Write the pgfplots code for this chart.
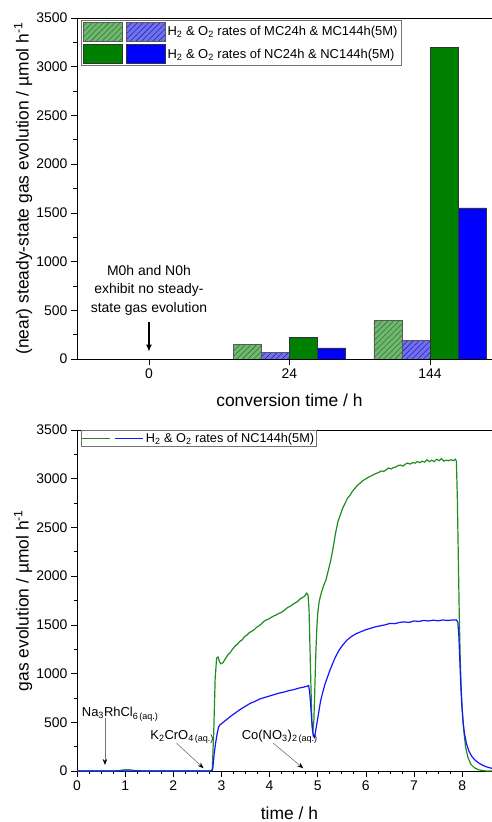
\documentclass[border=0pt]{standalone}
\usepackage{fontspec}
\setmainfont{Liberation Sans}
\usepackage{pgfplots}
\pgfplotsset{compat=1.18}
\usetikzlibrary{patterns.meta,arrows.meta}

\definecolor{barGreen}{RGB}{0,128,0}
\definecolor{barBlue}{RGB}{0,0,255}
\definecolor{hatchGreenFill}{RGB}{112,184,112}
\definecolor{hatchGreenLine}{RGB}{45,115,45}
\definecolor{hatchBlueFill}{RGB}{112,112,240}
\definecolor{hatchBlueLine}{RGB}{35,35,170}
\definecolor{lineGreen}{RGB}{30,140,30}
\definecolor{lineBlue}{RGB}{20,20,255}

\pgfplotsset{
  panel/.style={
    scale only axis, width=415bp, height=341bp,
    axis x line*=box, axis y line*=left,
    xtick pos=lower, ytick pos=left,
    tick align=outside,
    major tick length=6bp, minor tick length=3.5bp,
    ymin=0, ymax=3500, ytick={0,500,...,3500}, minor y tick num=1,
    tick label style={font=\fontsize{14}{16}\selectfont},
    label style={font=\fontsize{17.5}{20}\selectfont},
    /pgf/number format/assume math mode=true,
    /pgf/number format/1000 sep={},
    axis line style={line width=0.9bp},
    tick style={line width=0.7bp, black},
    legend cell align=left,
  },
  barbox/.style={legend image code/.code={\draw[##1] (0bp,-9.5bp) rectangle (39bp,9.5bp);}},
}

\begin{document}
\begin{tikzpicture}
\useasboundingbox (0,0) rectangle (492bp,822bp);

% steady-state rates versus conversion time
\begin{axis}[panel, at={(77bp,463bp)}, anchor=south west,
  ybar, bar width=0.2,
  xmin=-0.512, xmax=2.441, enlarge x limits=false,
  xtick={0,1,2}, xticklabels={0,24,144},
  xlabel={conversion time / h},
  ylabel={(near) steady-state gas evolution / µmol h\textsuperscript{-1}},
  xlabel style={at={(axis description cs:0.512,0)}, anchor=center, yshift=-41bp},
  ylabel style={at={(axis description cs:-0.130,0.5)}, anchor=center},
  legend columns=2,
  legend style={at={(axis description cs:0.009,0.994)}, anchor=north west,
    draw=black!55, line width=0.6bp, inner sep=1.5bp, row sep=3bp,
    font=\fontsize{13}{15}\selectfont},
]
\addplot[barbox, bar shift=-0.3, draw=black!65, line width=0.5bp, fill=hatchGreenFill,
  postaction={pattern={Lines[angle=45,distance=4bp,line width=0.55bp]}, pattern color=hatchGreenLine}]
  coordinates {(1,150) (2,400)};
\addlegendentry{}
\addplot[barbox, bar shift=-0.1, draw=black!65, line width=0.5bp, fill=hatchBlueFill,
  postaction={pattern={Lines[angle=45,distance=4bp,line width=0.55bp]}, pattern color=hatchBlueLine}]
  coordinates {(1,70) (2,190)};
\addlegendentry{H\textsubscript{2} \& O\textsubscript{2} rates of MC24h \& MC144h(5M)}
\addplot[barbox, bar shift=0.1, draw=black!80, line width=0.5bp, fill=barGreen]
  coordinates {(1,225) (2,3200)};
\addlegendentry{}
\addplot[barbox, bar shift=0.3, draw=black!80, line width=0.5bp, fill=barBlue]
  coordinates {(1,115) (2,1550)};
\addlegendentry{H\textsubscript{2} \& O\textsubscript{2} rates of NC24h \& NC144h(5M)}

\node[align=center, font=\fontsize{14}{18.5}\selectfont] at (axis cs:0,708)
  {M0h and N0h\\exhibit no steady-\\state gas evolution};
\draw[-{Latex[length=7bp,width=6bp]}, line width=1.6bp] (axis cs:0,380) -- (axis cs:0,75);
\end{axis}

% time-resolved evolution of NC144h(5M)
\begin{axis}[panel, at={(77bp,51bp)}, anchor=south west,
  xmin=0, xmax=8.62, xtick={0,...,8}, minor x tick num=3,
  xlabel={time / h},
  ylabel={gas evolution / µmol h\textsuperscript{-1}},
  xlabel style={at={(axis description cs:0.512,0)}, anchor=center, yshift=-42bp},
  ylabel style={at={(axis description cs:-0.130,0.5)}, anchor=center},
  legend columns=2,
  legend image code/.code={\draw[#1] (0bp,0bp) -- (28bp,0bp);},
  legend style={at={(axis description cs:0.009,1.0)}, anchor=north west,
    draw=black!55, line width=0.6bp, inner sep=0.5bp,
    font=\fontsize{12.8}{14}\selectfont},
]
\addplot[lineGreen, line width=1.2bp] table {
0 0
0.80 0
0.90 6
1.00 14
1.10 12
1.20 5
1.35 0
2.78 0
2.81 20
2.84 400
2.87 950
2.90 1160
2.93 1170
2.96 1120
2.99 1100
3.03 1110
3.08 1150
3.13 1190
3.18 1215
3.23 1250
3.28 1280
3.33 1300
3.38 1330
3.43 1345
3.48 1380
3.53 1395
3.58 1420
3.63 1435
3.68 1450
3.73 1475
3.78 1490
3.83 1510
3.88 1535
3.93 1550
3.98 1560
4.03 1575
4.08 1590
4.13 1600
4.18 1615
4.23 1625
4.28 1640
4.33 1660
4.38 1680
4.43 1690
4.48 1710
4.53 1725
4.58 1740
4.63 1765
4.68 1780
4.73 1795
4.77 1825
4.80 1805
4.82 1650
4.84 1250
4.86 850
4.88 480
4.90 400
4.92 520
4.94 850
4.96 1200
4.98 1450
5.00 1620
5.03 1740
5.07 1820
5.12 1900
5.17 1960
5.22 2060
5.27 2160
5.32 2290
5.37 2440
5.42 2560
5.47 2630
5.52 2700
5.57 2750
5.62 2800
5.67 2830
5.72 2870
5.77 2900
5.82 2930
5.87 2950
5.92 2975
5.97 2990
6.02 3005
6.07 3020
6.12 3030
6.17 3045
6.22 3055
6.27 3065
6.32 3080
6.37 3075
6.42 3090
6.47 3110
6.52 3100
6.57 3115
6.62 3120
6.67 3135
6.72 3140
6.77 3130
6.82 3150
6.87 3160
6.92 3150
6.97 3165
7.02 3160
7.07 3175
7.12 3165
7.17 3180
7.22 3170
7.27 3195
7.32 3175
7.37 3190
7.42 3175
7.47 3200
7.52 3185
7.57 3205
7.62 3180
7.67 3190
7.72 3185
7.77 3195
7.82 3185
7.86 3200
7.88 3180
7.90 2800
7.92 2200
7.94 1600
7.96 1150
7.98 850
8.00 640
8.03 430
8.07 250
8.12 140
8.18 70
8.25 35
8.33 15
8.42 5
8.50 0
8.62 0
};
\addlegendentry{}
\addplot[lineBlue, line width=1.2bp] table {
0 0
2.80 0
2.82 20
2.85 180
2.88 290
2.91 380
2.94 450
2.97 475
3.00 485
3.05 505
3.10 525
3.15 545
3.20 565
3.30 600
3.40 635
3.50 665
3.60 695
3.70 715
3.80 740
3.90 755
4.00 770
4.10 785
4.20 800
4.30 810
4.40 825
4.50 835
4.60 850
4.70 860
4.78 870
4.81 878
4.83 820
4.85 700
4.87 560
4.89 430
4.91 360
4.93 345
4.95 390
4.98 480
5.02 600
5.06 720
5.10 800
5.15 890
5.20 960
5.25 1030
5.30 1090
5.35 1150
5.40 1200
5.45 1245
5.50 1280
5.55 1310
5.60 1340
5.65 1360
5.70 1380
5.75 1395
5.80 1410
5.90 1430
6.00 1450
6.10 1465
6.20 1480
6.30 1490
6.40 1500
6.50 1515
6.60 1512
6.70 1525
6.80 1530
6.90 1525
7.00 1540
7.10 1535
7.20 1545
7.30 1540
7.40 1548
7.50 1542
7.60 1550
7.70 1545
7.80 1550
7.88 1550
7.91 1530
7.93 1400
7.95 1150
7.97 900
7.99 700
8.02 500
8.05 380
8.09 280
8.14 205
8.20 150
8.27 110
8.35 80
8.43 58
8.52 40
8.62 27
};
\addlegendentry{H\textsubscript{2} \& O\textsubscript{2} rates of NC144h(5M)}

% reagent additions
\begin{scope}[font=\fontsize{13}{15}\selectfont]
\node[anchor=base west, inner sep=0pt] at (axis cs:0.098,557) {Na\textsubscript{3}RhCl\textsubscript{6\,(aq.)}};
\node[anchor=base west, inner sep=0pt] at (axis cs:1.52,325) {K\textsubscript{2}CrO\textsubscript{4\,(aq.)}};
\node[anchor=base west, inner sep=0pt] at (axis cs:3.42,325) {Co(NO\textsubscript{3})\textsubscript{2\,(aq.)}};
\end{scope}
\begin{scope}[black!55, line width=0.6bp, -{Stealth[black,length=6bp,width=4.5bp]}]
\draw (axis cs:0.58,544) -- (axis cs:0.58,62);
\draw (axis cs:2.07,284) -- (axis cs:2.63,28);
\draw (axis cs:4.08,284) -- (axis cs:4.70,28);
\end{scope}
\end{axis}
\end{tikzpicture}
\end{document}
